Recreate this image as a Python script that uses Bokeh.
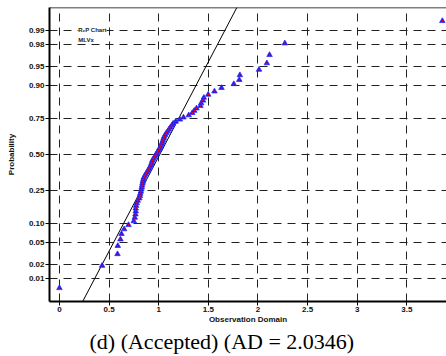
from statistics import NormalDist
from bokeh.plotting import figure
from bokeh.models import Range1d, FixedTicker, Span, Label, Title, ColumnDataSource
from bokeh.embed import file_html
from bokeh.resources import INLINE

obs = [0.000, 0.430, 0.585, 0.588, 0.615, 0.625, 0.652, 0.696, 0.749, 0.759,
       0.766, 0.769, 0.769, 0.773, 0.779, 0.789, 0.805, 0.811, 0.814, 0.820,
       0.825, 0.829, 0.833, 0.837, 0.840, 0.845, 0.849, 0.859, 0.870, 0.880,
       0.892, 0.902, 0.912, 0.920, 0.927, 0.932, 0.937, 0.948, 0.958, 0.968,
       0.978, 0.988, 0.998, 1.008, 1.018, 1.026, 1.031, 1.038, 1.044, 1.050,
       1.056, 1.066, 1.079, 1.092, 1.104, 1.117, 1.132, 1.146, 1.172, 1.213,
       1.250, 1.303, 1.338, 1.358, 1.381, 1.421, 1.428, 1.447, 1.455, 1.499,
       1.562, 1.633, 1.757, 1.812, 1.818, 2.011, 2.090, 2.117, 2.271, 3.858]

# Fitted normal line parameters
fit_mu = 1.011
fit_sigma = 0.2825

prob_ticks = [0.01, 0.02, 0.05, 0.10, 0.25, 0.50, 0.75, 0.90, 0.95, 0.98, 0.99]
prob_labels = ["0.01", "0.02", "0.05", "0.10", "0.25", "0.50", "0.75", "0.90", "0.95", "0.98", "0.99"]
x_ticks = [0, 0.5, 1, 1.5, 2, 2.5, 3, 3.5]
x_tick_labels = ["0", "0.5", "1", "1.5", "2", "2.5", "3", "3.5"]
caption = "(d) (Accepted) (AD = 2.0346)"

nd = NormalDist()
n = len(obs)
zq = [nd.inv_cdf((i + 0.5) / n) for i in range(n)]
z_ticks = [nd.inv_cdf(p) for p in prob_ticks]

ZLIM = 2.75
p = figure(width=446, height=356, output_backend="svg", toolbar_location=None,
           x_range=Range1d(-0.1, 3.9), y_range=Range1d(-ZLIM, ZLIM),
           min_border_left=49, min_border_right=0, min_border_top=7, min_border_bottom=55)
p.outline_line_color = None
p.background_fill_color = "white"
p.border_fill_color = "white"

TF = "Liberation Sans"
for ax in (p.xaxis[0], p.yaxis[0]):
    ax.axis_line_width = 2
    ax.axis_line_color = "black"
    ax.major_tick_in = 0
    ax.major_tick_out = 4
    ax.major_tick_line_color = "black"
    ax.minor_tick_line_color = None
    ax.major_label_text_font = TF
    ax.major_label_text_font_style = "bold"
    ax.major_label_text_font_size = "8px"
    ax.major_label_text_color = "#111111"
    ax.axis_label_text_font = TF
    ax.axis_label_text_font_style = "bold"
    ax.axis_label_text_font_size = "8px"
    ax.axis_label_text_color = "#111111"

p.xaxis.ticker = FixedTicker(ticks=x_ticks)
p.xaxis.major_label_overrides = {t: l for t, l in zip(x_ticks, x_tick_labels)}
p.xaxis.axis_label = "Observation Domain"
p.xaxis.major_label_standoff = 1
p.xaxis.axis_label_standoff = 0

p.yaxis.ticker = FixedTicker(ticks=z_ticks)
p.yaxis.major_label_overrides = {t: l for t, l in zip(z_ticks, prob_labels)}
p.yaxis.axis_label = "Probability"
p.yaxis.major_label_standoff = 1
p.yaxis.axis_label_standoff = 10

for g in (p.xgrid[0], p.ygrid[0]):
    g.grid_line_color = "#222222"
    g.grid_line_width = 1
    g.grid_line_dash = "8 6"
p.xgrid.ticker = FixedTicker(ticks=x_ticks)
p.ygrid.ticker = FixedTicker(ticks=z_ticks)

# top border
p.add_layout(Span(location=ZLIM, dimension="width", line_color="black", line_width=1.5))

# fitted line
p.line([fit_mu - fit_sigma * ZLIM, fit_mu + fit_sigma * ZLIM], [-ZLIM, ZLIM],
       line_color="black", line_width=1)

src = ColumnDataSource(dict(x=obs, y=zq))
p.scatter("x", "y", source=src, marker="triangle", size=5.5,
          fill_color="#1010ee", line_color="#3030ff", line_width=0.8)
p.scatter("x", "y", source=src, marker="circle", size=1.8,
          fill_color="red", line_color=None)

p.add_layout(Label(x=0.19, y=2.33, text="R\u2082P Chart", text_font=TF, text_font_style="bold",
                   text_font_size="6px", text_color="#222222", text_baseline="middle",
                   background_fill_color="white"))
p.add_layout(Label(x=0.19, y=2.15, text="MLVx", text_font=TF, text_font_style="bold",
                   text_font_size="6px", text_color="#222222", text_baseline="middle"))

cap = Title(text=caption, align="left", offset=40, text_font="Liberation Serif",
            text_font_size="22px", text_font_style="normal", text_color="black",
            standoff=0, text_line_height=0.75)
p.add_layout(cap, "below")

open("out.html", "w").write(file_html(p, INLINE))
